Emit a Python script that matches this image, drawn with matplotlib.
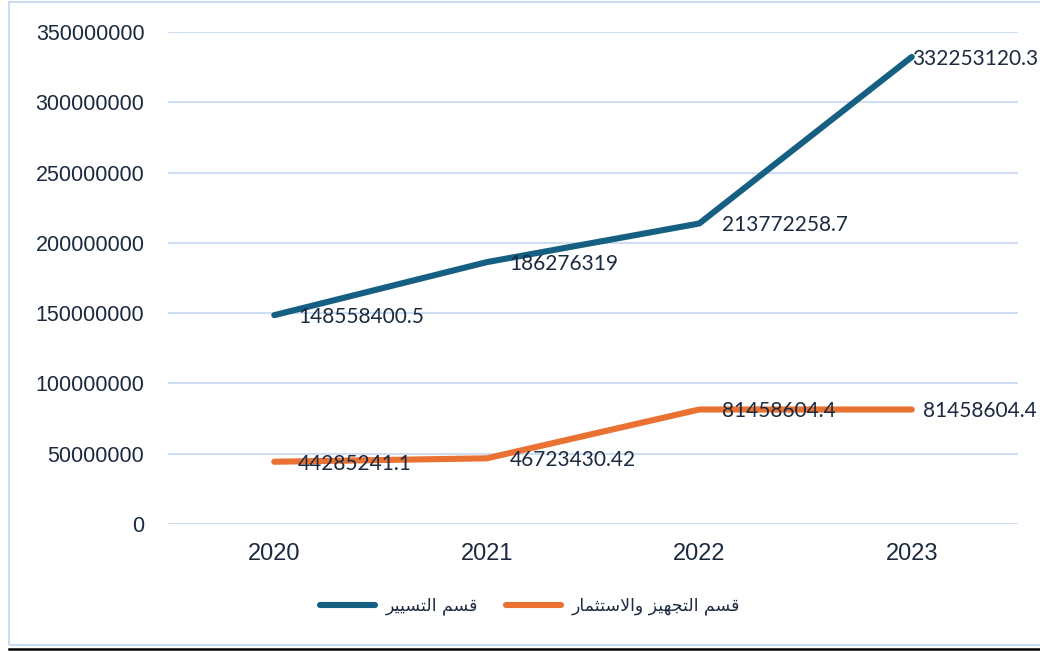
import matplotlib
matplotlib.use('Agg')
import matplotlib.pyplot as plt
from matplotlib.patches import Rectangle
from matplotlib.lines import Line2D

plt.rcParams['font.family'] = ['Liberation Sans', 'DejaVu Sans']

# data
years = ['2020', '2021', '2022', '2023']
tasyir = [148558400.5, 186276319, 213772258.7, 332253120.3]
tajhiz = [44285241.1, 46723430.42, 81458604.4, 81458604.4]
tasyir_labels = ['148558400.5', '186276319', '213772258.7', '332253120.3']
tajhiz_labels = ['44285241.1', '46723430.42', '81458604.4', '81458604.4']
series_names = ['قسم التسيير', 'قسم التجهيز والاستثمار']
yticks = [0, 50000000, 100000000, 150000000, 200000000, 250000000, 300000000, 350000000]

BLUE = '#156082'
ORANGE = '#E97132'
TEXT = '#1b2a3f'
GRID = '#cfdff1'

# --- minimal arabic shaping (matplotlib draws LTR, no joining) ---
# forms: isolated, final, initial, medial (None = does not join to next)
FORMS = {
    'ا': ('\uFE8D', '\uFE8E', None, None),
    'ر': ('\uFEAD', '\uFEAE', None, None),
    'ز': ('\uFEAF', '\uFEB0', None, None),
    'و': ('\uFEED', '\uFEEE', None, None),
    'ق': ('\uFED5', '\uFED6', '\uFED7', '\uFED8'),
    'س': ('\uFEB1', '\uFEB2', '\uFEB3', '\uFEB4'),
    'م': ('\uFEE1', '\uFEE2', '\uFEE3', '\uFEE4'),
    'ل': ('\uFEDD', '\uFEDE', '\uFEDF', '\uFEE0'),
    'ت': ('\uFE95', '\uFE96', '\uFE97', '\uFE98'),
    'ث': ('\uFE99', '\uFE9A', '\uFE9B', '\uFE9C'),
    'ي': ('\uFEF1', '\uFEF2', '\uFEF3', '\uFEF4'),
    'ج': ('\uFE9D', '\uFE9E', '\uFE9F', '\uFEA0'),
    'ه': ('\uFEE9', '\uFEEA', '\uFEEB', '\uFEEC'),
}


def shape(text):
    out = []
    i = 0
    prev_joins = False
    while i < len(text):
        c = text[i]
        if c not in FORMS:
            out.append(c)
            prev_joins = False
            i += 1
            continue
        nxt = text[i + 1] if i + 1 < len(text) else ''
        if c == 'ل' and nxt == 'ا':
            out.append('\uFEFC' if prev_joins else '\uFEFB')
            prev_joins = False
            i += 2
            continue
        iso, fin, ini, med = FORMS[c]
        joins_next = ini is not None and nxt in FORMS
        if prev_joins and joins_next:
            out.append(med)
        elif prev_joins:
            out.append(fin)
        elif joins_next:
            out.append(ini)
        else:
            out.append(iso)
        prev_joins = joins_next
        i += 1
    return ''.join(out)[::-1]


fig = plt.figure(figsize=(10.4, 6.51), dpi=100)
ax = fig.add_axes([168 / 1040, 1 - 524 / 651, 850 / 1040, 492 / 651])

x = list(range(len(years)))
ax.plot(x, tasyir, color=BLUE, lw=4.4, solid_joinstyle='miter', solid_capstyle='round', zorder=3)
ax.plot(x, tajhiz, color=ORANGE, lw=4.4, solid_joinstyle='miter', solid_capstyle='round', zorder=3)

# data labels (right of point, excel shifts the last ones to fit)
blue_off = [24, 23, 23, 0]
orange_off = [24, 23, 23, 11]
for i in x:
    ax.annotate(tasyir_labels[i], (i, tasyir[i]), xytext=(blue_off[i], -2),
                textcoords='offset pixels', ha='left', va='center',
                fontsize=15, family='Lato', color=TEXT, zorder=4)
    ax.annotate(tajhiz_labels[i], (i, tajhiz[i]), xytext=(orange_off[i], -2),
                textcoords='offset pixels', ha='left', va='center',
                fontsize=15, family='Lato', color=TEXT, zorder=4)

ax.set_xlim(-0.5, 3.5)
ax.set_ylim(0, 350000000)
ax.set_yticks(yticks)
ax.set_yticklabels([str(v) for v in yticks])
ax.set_xticks(x)
ax.set_xticklabels(years)
ax.tick_params(axis='both', length=0, colors=TEXT)
ax.tick_params(axis='y', pad=17, labelsize=15.5)
ax.tick_params(axis='x', pad=14, labelsize=17)
ax.grid(axis='y', color=GRID, lw=1.5)
ax.set_axisbelow(True)
for s in ax.spines.values():
    s.set_visible(False)

# legend
handles = [Line2D([0], [0], color=BLUE, lw=4.4, solid_capstyle='round'),
           Line2D([0], [0], color=ORANGE, lw=4.4, solid_capstyle='round')]
leg = fig.legend(handles, [shape(n) for n in series_names], loc='center',
                 bbox_to_anchor=(530 / 1040, 1 - 606 / 651), ncol=2, frameon=False,
                 fontsize=12.5, handlelength=3.2, handletextpad=0.6, columnspacing=1.6)
for t in leg.get_texts():
    t.set_color(TEXT)
    t.set_family('DejaVu Sans')

# chart frame and bottom rule
fig.patches.append(Rectangle((9 / 1040, 1 - 645 / 651), 1.1, 643 / 651, transform=fig.transFigure,
                             fill=False, edgecolor='#c9dcf0', lw=1.5))
fig.add_artist(Line2D([9 / 1040, 1], [1 - 649 / 651, 1 - 649 / 651], transform=fig.transFigure,
                      color='black', lw=1.8))

plt.savefig('out.png', dpi=100)
